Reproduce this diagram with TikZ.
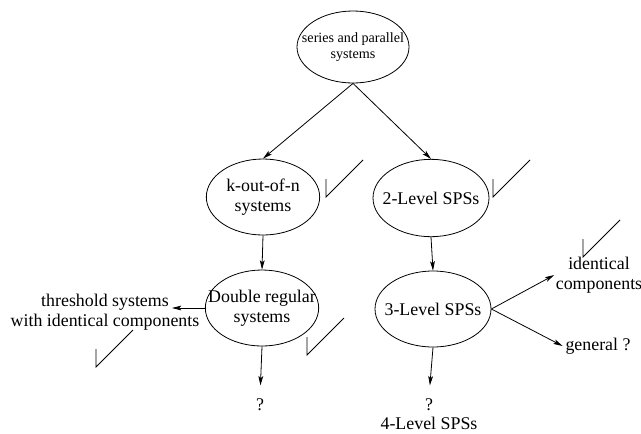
\documentclass[tikz,border=0pt]{standalone}
\usepackage{fontspec}
\setmainfont{Liberation Serif}
\usetikzlibrary{arrows.meta, shapes.geometric}

\tikzset{
  sysnode/.style={draw, ellipse, line width=0.6pt, inner sep=-30pt, align=center,
    minimum width=85pt, minimum height=57pt, font=\fontsize{13.4}{14.6}\selectfont},
  plaintext/.style={align=center, inner sep=2pt, font=\fontsize{13.4}{14.6}\selectfont},
  flow/.style={line width=0.6pt, -{Stealth[length=7pt, width=3.6pt, inset=1.6pt]}},
  tickmark/.style={line width=0.6pt}
}

\begin{document}
\begin{tikzpicture}[x=0.75pt, y=-0.75pt]
    \useasboundingbox (0,0) rectangle (641,433);
    % ellipses
    \node[sysnode, minimum width=84pt, minimum height=54pt,
      font=\fontsize{10.6}{12.2}\selectfont] (top) at (353,47) {series and parallel\\systems};
    \node[sysnode] (kout) at (263,197) {k-out-of-n\\systems};
    \node[sysnode, minimum width=87pt, minimum height=58pt] (two) at (431,198) {2-Level SPSs};
    \node[sysnode] (dbl) at (262,308) {Double regular\\systems};
    \node[sysnode, minimum width=87pt] (three) at (433,309) {3-Level SPSs};
    % plain labels
    \node[plaintext] (thr) at (105,312) {threshold systems\\with identical components};
    \coordinate (thrend) at (172,308);
    \node[plaintext] (qa) at (260,405) {?};
    \node[plaintext] (qb) at (429,405) {?};
    \node[plaintext] (four) at (429,423) {4-Level SPSs};
    \node[plaintext, inner sep=1pt] (ident) at (599,275) {identical\\components};
    \node[plaintext] (gen) at (598,346) {general ?};
    % connectors
    \draw[flow] (top.south) -- (kout.north);
    \draw[flow] (top.south) -- (two.north);
    \draw[flow] (kout.south) -- (dbl.north);
    \draw[flow] (two.south) -- (three.north);
    \draw[flow] (dbl.west) -- (thrend);
    \draw[flow, shorten >=8pt] (dbl.south) -- (qa.north);
    \draw[flow, shorten >=8pt] (three.south) -- (qb.north);
    \draw[flow] (three.east) -- (ident.west);
    \draw[flow] (three.east) -- (gen.west);
    % check marks
    \foreach \x/\y in {326/197, 493/197, 307/355, 96/367, 583/257}{
      \draw[tickmark] ({\x},{\y-18}) -- (\x,\y) -- ({\x+37},{\y-37});
    }
\end{tikzpicture}
\end{document}
